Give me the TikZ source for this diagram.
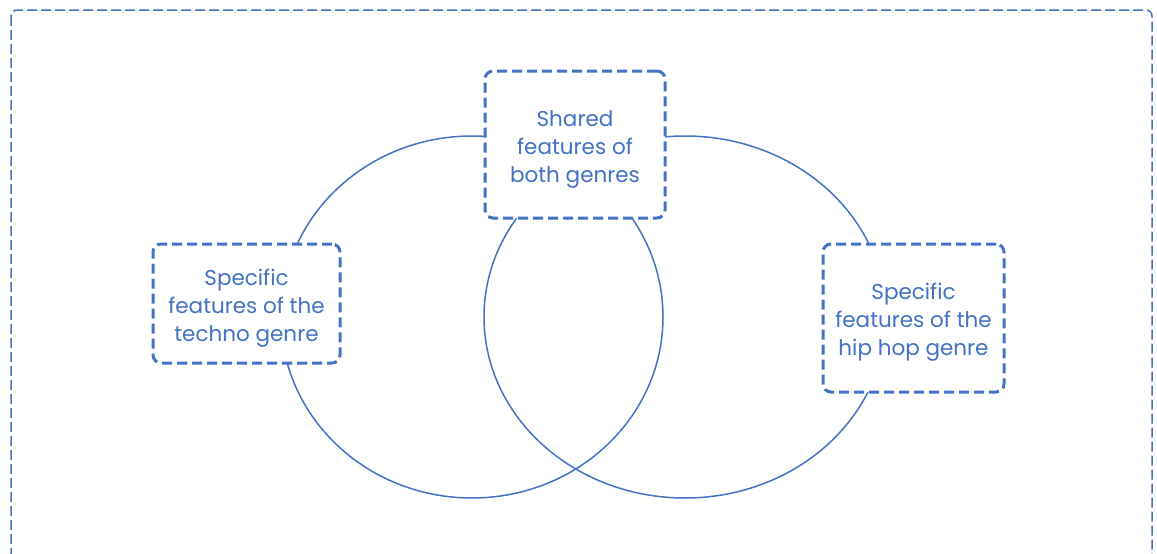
\documentclass[tikz,border=0pt]{standalone}
\usepackage{fontspec}
\setmainfont{Poppins}
\usetikzlibrary{shapes.geometric, positioning}
\definecolor{cBlue}{RGB}{68,114,196}
\newcommand{\boxlines}[1]{\raisebox{-4pt}[\height][\depth]{\begin{tabular}{@{}c@{}}#1\end{tabular}}}
\tikzset{
	featbox/.style={rectangle, rounded corners=8pt, draw=cBlue, line width=3pt, dash pattern=on 10pt off 5pt, fill=white, text=cBlue, font=\fontsize{21.5}{28}\selectfont, inner sep=0pt},
	genre/.style={ellipse, draw=cBlue, line width=1.5pt, inner sep=0pt},
	frame/.style={draw=cBlue, line width=1.5pt, dash pattern=on 10pt off 4pt, rounded corners=6pt},
}
\begin{document}
\begin{tikzpicture}[x=1pt, y=-1pt]
	\useasboundingbox (0,0) rectangle (1157,554);
	\clip (0,0) rectangle (1157,554);
	\draw[frame] (11,10) rectangle (1152,590);
	% the two genres
	\node[genre, minimum width=382pt, minimum height=362pt] (techno) at (472,317) {};
	\node[genre, minimum width=402pt, minimum height=362pt] (hiphop) at (685,317) {};
	% labels
	\node[featbox, minimum width=187pt, minimum height=119pt] (techfeat) at (246.5,303.5) {\boxlines{Specific\\features of the\\techno genre}};
	\node[featbox, minimum width=180pt, minimum height=147pt] (shared) at (575,144.5) {\boxlines{Shared\\features of\\both genres}};
	\node[featbox, minimum width=181pt, minimum height=148pt] (hipfeat) at (913.5,318) {\boxlines{Specific\\features of the\\hip hop genre}};
\end{tikzpicture}
\end{document}
